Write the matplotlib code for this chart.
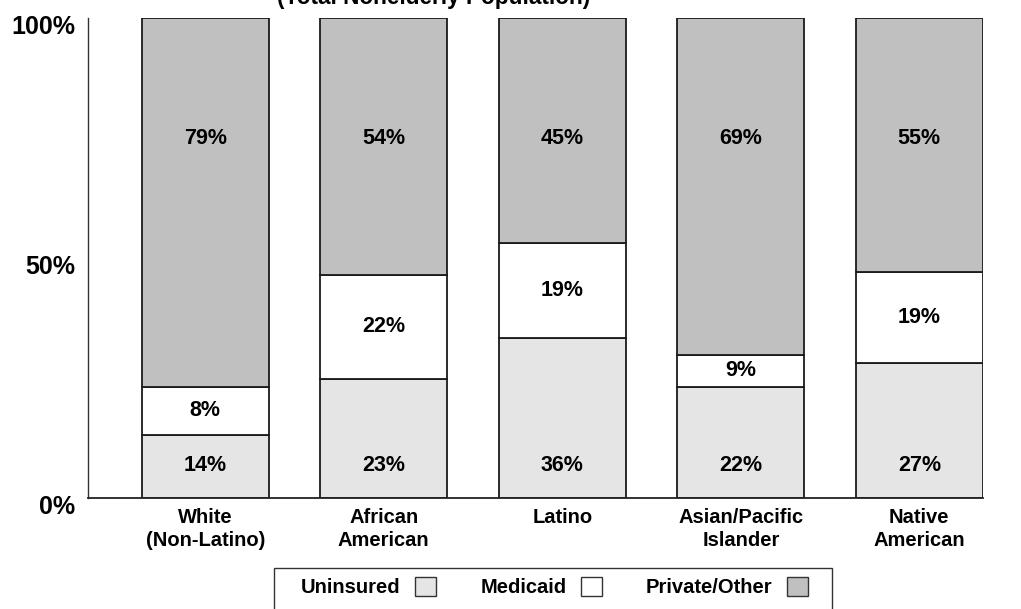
import numpy as np
import matplotlib
matplotlib.use('Agg')
import matplotlib.pyplot as plt
import matplotlib.transforms as mtransforms
from matplotlib.patches import Patch, Rectangle

# ---------------------------------------------------------------------
#  Dados
# ---------------------------------------------------------------------

grupos = ['White\n(Non-Latino)', 'African\nAmerican', 'Latino',
          'Asian/Pacific\nIslander', 'Native\nAmerican']

# alturas dos segmentos (% da barra)
uninsured = [13.1, 24.8, 33.3, 23.2, 28.2]
medicaid = [10.1, 21.7, 19.9, 6.6, 18.8]
private = [76.8, 53.5, 46.8, 70.2, 53.0]

# rótulos escritos nas barras
uninsured_lbl = ['14%', '23%', '36%', '22%', '27%']
medicaid_lbl = ['8%', '22%', '19%', '9%', '19%']
private_lbl = ['79%', '54%', '45%', '69%', '55%']

y_ticks = [0, 50, 100]
y_tick_lbl = ['0%', '50%', '100%']

cor_uninsured = '#e5e5e5'
cor_medicaid = '#ffffff'
cor_private = '#c0c0c0'

plt.rcParams['font.family'] = ['Liberation Sans', 'DejaVu Sans']
plt.rcParams['font.weight'] = 'bold'

# ---------------------------------------------------------------------
#  Figura
# ---------------------------------------------------------------------

W, H = 1021, 609
fig = plt.figure(figsize=(W / 100, H / 100), dpi=100)
ax = fig.add_axes([88 / W, 1 - 498 / H, (982.7 - 88) / W, (498 - 18) / H])

x = np.arange(len(grupos))
largura = 0.711
borda = dict(edgecolor='#1a1a1a', linewidth=1.3)

base2 = np.array(uninsured)
base3 = base2 + np.array(medicaid)
ax.bar(x, uninsured, largura, color=cor_uninsured, **borda)
ax.bar(x, medicaid, largura, bottom=base2, color=cor_medicaid, **borda)
ax.bar(x, private, largura, bottom=base3, color=cor_private, **borda)

for i in range(len(x)):
    ax.text(x[i], 6.7, uninsured_lbl[i], ha='center', va='center', fontsize=15.5, fontweight='bold')
    ax.text(x[i], base2[i] + medicaid[i] / 2, medicaid_lbl[i], ha='center', va='center',
            fontsize=15.5, fontweight='bold')
    ax.text(x[i], 75, private_lbl[i], ha='center', va='center', fontsize=15.5, fontweight='bold')

ax.set_xlim(-0.657, 4.355)
ax.set_ylim(0, 100)

ax.set_yticks(y_ticks)
ax.set_yticklabels(y_tick_lbl, fontsize=18, fontweight='bold')
ax.set_xticks(x)
ax.set_xticklabels(grupos, fontsize=14.5, fontweight='bold', linespacing=1.22)
ax.tick_params(axis='both', length=0)
ax.tick_params(axis='y', pad=9)
ax.tick_params(axis='x', pad=7.5)

# rótulos do eixo y um pouco abaixo da posição
desloc = mtransforms.ScaledTranslation(0, -6 / 100, fig.dpi_scale_trans)
for lbl in ax.get_yticklabels():
    lbl.set_transform(lbl.get_transform() + desloc)

for lado in ['top', 'right']:
    ax.spines[lado].set_visible(False)
ax.spines['left'].set_color('#333333')
ax.spines['bottom'].set_color('#222222')
ax.spines['left'].set_linewidth(1.0)
ax.spines['bottom'].set_linewidth(1.3)

# título (cortado no topo)
fig.text(434 / W, 1 - 4 / H, '(Total Nonelderly Population)', ha='center', va='baseline',
         fontsize=16.3, fontweight='bold')

# legenda (moldura desenhada à parte)
fig.add_artist(Rectangle((274 / W, -0.02), (832 - 274) / W, 0.02 + (609 - 568) / H,
                         transform=fig.transFigure, facecolor='white',
                         edgecolor='#333333', linewidth=1.0))
handles = [Patch(facecolor=cor_uninsured, edgecolor='#333333', linewidth=1),
           Patch(facecolor=cor_medicaid, edgecolor='#333333', linewidth=1),
           Patch(facecolor=cor_private, edgecolor='#333333', linewidth=1)]
leg = fig.legend(handles, ['Uninsured', 'Medicaid', 'Private/Other'], ncol=3,
                 loc='upper center', bbox_to_anchor=(554.5 / W, 1 - 577 / H),
                 markerfirst=False, frameon=False, borderaxespad=0, borderpad=0,
                 handlelength=1.05, handleheight=1.05, handletextpad=0.7, columnspacing=2.2,
                 prop=dict(size=14.5, weight='bold'))

fig.savefig('out.png', dpi=100)
